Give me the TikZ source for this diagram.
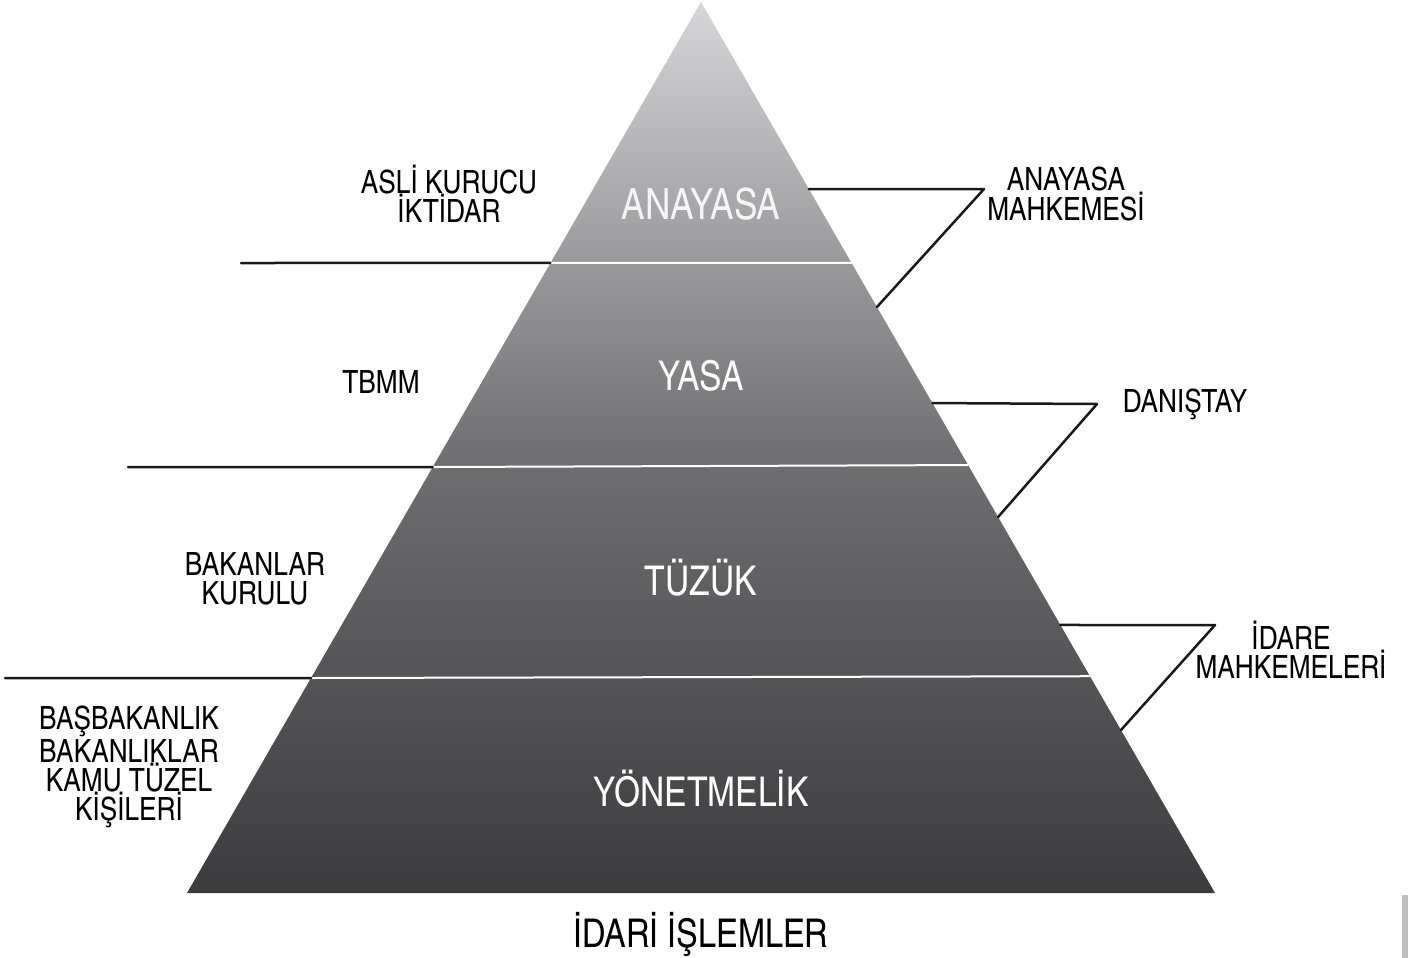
\documentclass[tikz,border=0pt]{standalone}
\usepackage{fontspec}
\newfontfamily\condfont{texgyreheroscn-regular.otf}
\usetikzlibrary{calc}

\definecolor{pyrtop}{HTML}{D6D6D8}
\definecolor{pyrhi}{HTML}{A9A9AC}
\definecolor{pyrup}{HTML}{98989B}
\definecolor{pyrmid}{HTML}{6E6E71}
\definecolor{pyrlow}{HTML}{545457}
\definecolor{pyrbot}{HTML}{3C3C3E}
\pgfdeclareverticalshading{pyrshade}{100bp}{color(0bp)=(pyrbot); color(25bp)=(pyrbot); color(37bp)=(pyrlow); color(49bp)=(pyrmid); color(60bp)=(pyrup); color(64bp)=(pyrhi); color(75bp)=(pyrtop); color(100bp)=(pyrtop)}

\tikzset{
	lbl/.style={font=\condfont\fontsize{16}{14.6}\selectfont, align=center, inner sep=0pt},
	lvl/.style={font=\condfont\fontsize{20.5}{24}\selectfont, text=white, inner sep=0pt},
	rule/.style={line width=1.25pt, black!90},
	divide/.style={white, line width=1pt}
}

\begin{document}
\begin{tikzpicture}[x=0.5pt, y=-0.5pt, line join=round, line cap=round]
	\useasboundingbox (0,0) rectangle (1413,958);
	\coordinate (T) at (701,2);
	\coordinate (BL) at (187,893);
	\coordinate (BR) at (1215,893);
	% pyramid
	\shade[shading=pyrshade] (T)--(BL)--(BR)--cycle;
	% levels
	\coordinate (L1) at ($(T)!0.2929!(BL)$);
	\coordinate (R1) at ($(T)!0.2929!(BR)$);
	\coordinate (L2) at ($(T)!0.5219!(BL)$);
	\coordinate (R2) at ($(T)!0.5197!(BR)$);
	\coordinate (L3) at ($(T)!0.7587!(BL)$);
	\coordinate (R3) at ($(T)!0.7567!(BR)$);
	\draw[divide] (L1)--(R1) (L2)--(R2) (L3)--(R3);
	% left rules
	\coordinate (A1) at (241,263);
	\coordinate (A2) at (128,467);
	\coordinate (A3) at (5,678);
	\draw[rule] (A1)--(L1) (A2)--(L2) (A3)--(L3);
	% right brackets
	\coordinate (E1) at ($(T)!0.2099!(BR)$);
	\coordinate (E2) at ($(T)!0.3423!(BR)$);
	\coordinate (E3) at ($(T)!0.4501!(BR)$);
	\coordinate (E4) at ($(T)!0.5780!(BR)$);
	\coordinate (E5) at ($(T)!0.6992!(BR)$);
	\coordinate (E6) at ($(T)!0.8171!(BR)$);
	\coordinate (K1) at (984,189);
	\coordinate (K2) at (1097,404);
	\coordinate (K3) at (1215,625);
	\draw[rule] (E1)--(K1)--(E2);
	\draw[rule] (E3)--(K2)--(E4);
	\draw[rule] (E5)--(K3)--(E6);
	% level names
	\node[lvl, font=\condfont\fontsize{21.5}{24}\selectfont, text=white!96!black] (anayasa) at (701,204) {ANAYASA};
	\node[lvl] (yasa) at (701,376) {YASA};
	\node[lvl] (tuzuk) at (701,578) {TÜZÜK};
	\node[lvl] (yonetmelik) at (701,789) {YÖNETMELİK};
	% makers
	\node[lbl] (asli) at (449,194) {ASLİ KURUCU\\İKTİDAR};
	\node[lbl] (tbmm) at (381,382) {TBMM};
	\node[lbl] (bakanlar) at (255,579) {BAKANLAR\\KURULU};
	\node[lbl] (basbakanlik) at (129,767) {BAŞBAKANLIK\\BAKANLIKLAR\\KAMU TÜZEL\\KİŞİLERİ};
	% courts
	\node[lbl] (aym) at (1066,194) {ANAYASA\\MAHKEMESİ};
	\node[lbl] (danistay) at (1185,404) {DANIŞTAY};
	\node[lbl] (idare) at (1291,650) {İDARE\\MAHKEMELERİ};
	\node[font=\condfont\fontsize{19.8}{22}\selectfont, inner sep=0pt] (islemler) at (701,934) {İDARİ İŞLEMLER};
	\fill[black!25] (1402,895) rectangle (1408,958);
\end{tikzpicture}
\end{document}
